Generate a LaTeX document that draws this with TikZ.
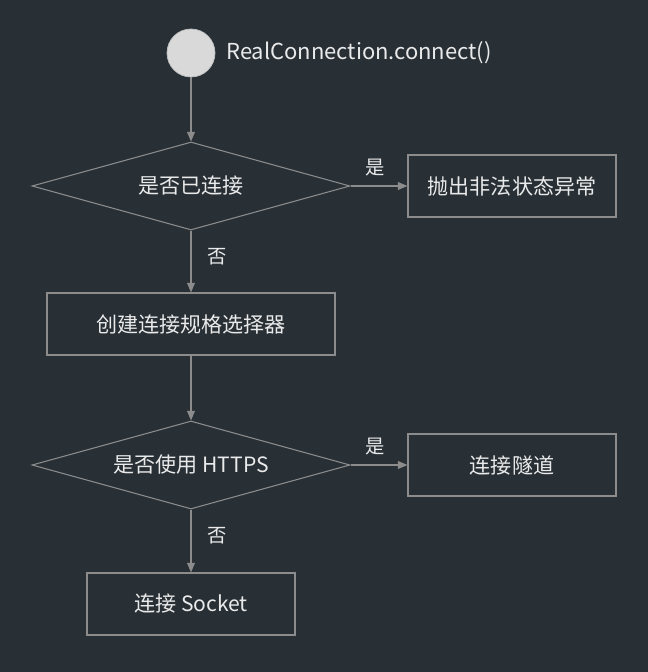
\documentclass[tikz,border=0pt]{standalone}
\usepackage{fontspec}
\setmainfont{Noto Sans CJK SC}
\usetikzlibrary{shapes.geometric,arrows.meta}
\definecolor{bgdark}{HTML}{283036}
\definecolor{linegray}{HTML}{8C8C8C}
\definecolor{textwhite}{HTML}{EAEAEA}
\begin{document}
\begin{tikzpicture}[
  font=\fontsize{12}{14}\selectfont, text=textwhite,
  procbox/.style={draw=linegray, line width=0.6pt, minimum height=1.24cm, inner sep=0pt},
  decision/.style={draw=linegray, line width=0.6pt, diamond, shape aspect=3.6, minimum width=6.36cm, minimum height=1.76cm, inner sep=0pt},
  flow/.style={draw=linegray, line width=0.6pt, -{Triangle[length=5.5pt,width=4.5pt]}},
  answer/.style={font=\fontsize{11}{13}\selectfont}
]
\fill[bgdark] (0,0) rectangle (12.96,13.44);
\useasboundingbox (0,0) rectangle (12.96,13.44);
\node[circle, fill=black!15, draw=black!25, minimum size=0.96cm] (start) at (3.82,12.38) {};
\node[anchor=west, inner sep=0pt, font=\fontsize{12.5}{14}\selectfont] (title) at (4.52,12.38) {RealConnection.connect()};
\node[decision] (isconn) at (3.82,9.72) {是否已连接};
\node[procbox, minimum width=4.16cm] (throw) at (10.24,9.72) {抛出非法状态异常};
\node[procbox, minimum width=5.76cm] (selector) at (3.82,6.96) {创建连接规格选择器};
\node[decision] (ishttps) at (3.82,4.14) {是否使用 HTTPS};
\node[procbox, minimum width=4.16cm] (tunnel) at (10.24,4.14) {连接隧道};
\node[procbox, minimum width=4.16cm] (socket) at (3.82,1.36) {连接 Socket};
\draw[flow] (start) -- (isconn);
\draw[flow] (isconn) -- node[answer, above=2pt, pos=0.43] {是} (throw);
\draw[flow] (isconn) -- node[answer, right=6pt, pos=0.42] {否} (selector);
\draw[flow] (selector) -- (ishttps);
\draw[flow] (ishttps) -- node[answer, above=2pt, pos=0.43] {是} (tunnel);
\draw[flow] (ishttps) -- node[answer, right=6pt, pos=0.42] {否} (socket);
\end{tikzpicture}
\end{document}
